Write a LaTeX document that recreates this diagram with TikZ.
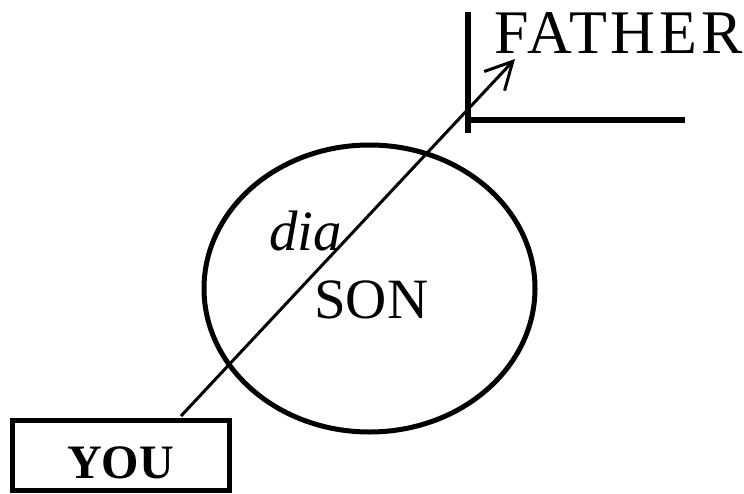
\documentclass[tikz,border=0pt]{standalone}
\usepackage{fontspec}
\setmainfont{Liberation Serif}
\usetikzlibrary{arrows.meta,shapes.geometric}
\tikzset{
  thick line/.style={line width=6pt},
  lbl/.style={inner sep=0pt, anchor=base west},
  youbox/.style={draw, line width=5pt, minimum width=217pt, minimum height=70pt, inner sep=0pt},
  sonshape/.style={draw, ellipse, line width=5pt, minimum width=331pt, minimum height=287pt, inner sep=0pt},
  relarrow/.style={line width=3pt, -{Straight Barb[length=27pt, width=28pt, line width=3pt]}}
}
\begin{document}
\begin{tikzpicture}[x=1pt, y=-1pt]
\useasboundingbox (0,0) rectangle (744,493);
% YOU box
\node[youbox] (you) at (120.5,455) {};
\node[lbl, font=\fontsize{48}{48}\selectfont\bfseries] (youtxt) at (67,478) {YOU};
% SON ellipse
\node[sonshape] (son) at (369.5,288.5) {};
\node[lbl, font=\fontsize{57}{57}\selectfont] (sontxt) at (314,318) {SON};
\node[lbl, font=\fontsize{57}{57}\selectfont\itshape] (dia) at (269,250) {dia};
% FATHER corner
\coordinate (vtop) at (468,12);
\coordinate (vbot) at (468,133);
\coordinate (hleft) at (465,120);
\coordinate (hright) at (685,120);
\draw[thick line] (vtop) -- (vbot);
\draw[thick line] (hleft) -- (hright);
\node[lbl, font=\fontsize{62}{62}\selectfont\addfontfeature{LetterSpace=6}] (father) at (494,53) {FATHER};
% arrow
\coordinate (tail) at (181,416);
\coordinate (tip) at (515,59);
\draw[relarrow] (tail) -- (tip);
\end{tikzpicture}
\end{document}
